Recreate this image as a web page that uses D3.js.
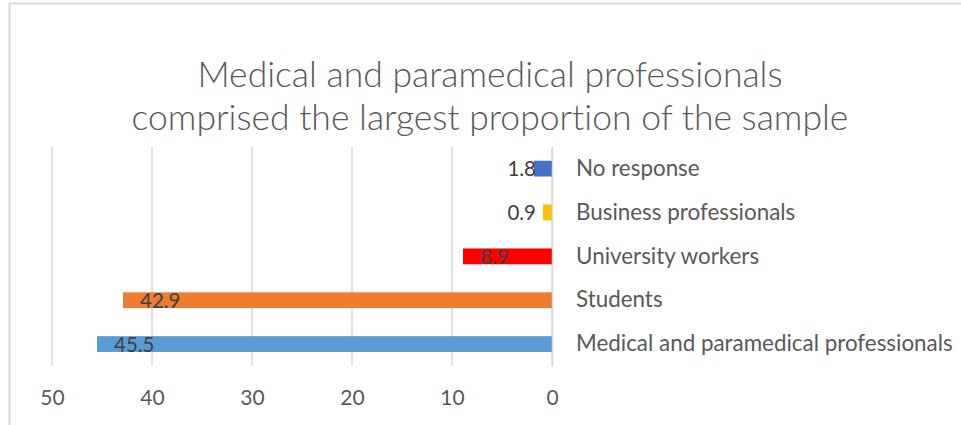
<!DOCTYPE html>
<html>
<head>
<meta charset="utf-8">
<script src="https://cdn.jsdelivr.net/npm/d3@7"></script>
<style>
  body { margin: 0; background: #fff; }
  svg { display: block; }
  text { font-variant-ligatures: none; }
</style>
</head>
<body>
<script>
// data, top to bottom as drawn
var categories = ["No response", "Business professionals", "University workers", "Students", "Medical and paramedical professionals"];
var values = [1.8, 0.9, 8.9, 42.9, 45.5];
var barColors = ["#4472C4", "#FFC000", "#FF0000", "#ED7D31", "#5B9BD5"];
var tickValues = [0, 10, 20, 30, 40, 50];
var titleLines = ["Medical and paramedical professionals", "comprised the largest proportion of the sample"];

var svgWidth = 961, svgHeight = 425;
var font = "Lato, 'Open Sans', sans-serif";
var plotTop = 146.7, plotBottom = 366;

var svg = d3.select("body").append("svg")
    .attr("width", svgWidth)
    .attr("height", svgHeight);

// chart border (only top and left visible)
svg.append("path")
    .attr("d", "M9.5,425 V3.5 H961")
    .attr("fill", "none")
    .attr("stroke", "#D9D9D9")
    .attr("stroke-width", 2);

// title
svg.append("g").selectAll("text")
    .data(titleLines)
    .enter()
    .append("text")
    .attr("x", 490)
    .attr("y", (d, i) => 87 + i * 43)
    .attr("text-anchor", "middle")
    .attr("font-family", font)
    .attr("font-weight", 300)
    .attr("font-size", "35.5px")
    .attr("fill", "#595959")
    .text(d => d);

// scales: reversed x axis, 0 on the right
var x = d3.scaleLinear()
    .domain([0, 50])
    .range([552, 52]);

var y = d3.scaleBand()
    .domain(categories)
    .range([plotTop, plotBottom])
    .paddingInner(0.64)
    .paddingOuter(0.32);

// gridlines
svg.append("g").selectAll("line")
    .data(tickValues)
    .enter()
    .append("line")
    .attr("x1", d => x(d))
    .attr("x2", d => x(d))
    .attr("y1", plotTop)
    .attr("y2", plotBottom)
    .attr("stroke", "#D9D9D9")
    .attr("stroke-width", 1.5);

// x axis labels
var xAxis = d3.axisBottom(x)
    .tickValues(tickValues)
    .tickSize(0)
    .tickPadding(0);

var xg = svg.append("g")
    .attr("transform", "translate(0,397)")
    .call(xAxis);
xg.select(".domain").remove();
xg.selectAll("text")
    .attr("font-family", font)
    .attr("font-size", "21px")
    .attr("fill", "#595959")
    .attr("dy", "0.36em")
    .attr("y", 0);

// bars
svg.append("g").selectAll("rect")
    .data(values)
    .enter()
    .append("rect")
    .attr("x", d => x(d))
    .attr("y", (d, i) => y(categories[i]))
    .attr("width", d => x(0) - x(d))
    .attr("height", y.bandwidth())
    .attr("fill", (d, i) => barColors[i]);

// category labels on the right of the 0 axis
var yAxis = d3.axisRight(y)
    .tickSize(0)
    .tickPadding(24);

var yg = svg.append("g")
    .attr("transform", `translate(${x(0)},0)`)
    .call(yAxis);
yg.select(".domain")
    .attr("stroke", "#D9D9D9")
    .attr("stroke-width", 1.5);
yg.selectAll("text")
    .attr("font-family", font)
    .attr("font-size", "22.4px")
    .attr("fill", "#595959");

// value labels: inside end, pushed left for short bars
var labels = svg.append("g").selectAll("text")
    .data(values)
    .enter()
    .append("text")
    .attr("y", (d, i) => y(categories[i]) + y.bandwidth() / 2)
    .attr("dy", "0.38em")
    .attr("text-anchor", "start")
    .attr("font-family", font)
    .attr("font-size", "20.5px")
    .attr("fill", "#404040")
    .text(d => d.toFixed(1));

labels.each(function (d) {
    var w = this.getComputedTextLength();
    var start = Math.min(x(d) + 17, x(0) - 16 - w);
    d3.select(this).attr("x", start);
});
</script>
</body>
</html>
